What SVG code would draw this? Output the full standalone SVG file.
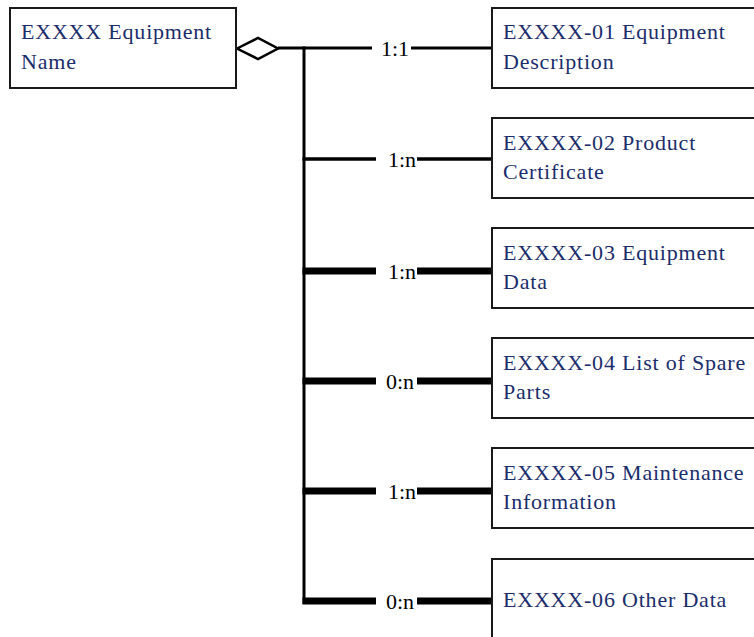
<svg xmlns="http://www.w3.org/2000/svg" width="754" height="637" viewBox="0 0 754 637">
<style>
.box{fill:#fff;stroke:#1a1a1a;stroke-width:2}
text{font-family:'Liberation Serif','Times New Roman',serif;font-size:22px}
.t{fill:#1b2d6b;letter-spacing:0.8px}
.lbl{fill:#000}
.thin{stroke:#000;stroke-width:3;fill:none}
.thick{stroke:#000;stroke-width:7;fill:none}
</style>
<rect width="754" height="637" fill="#fff"/>
<g id="connectors">
<line class="thin" x1="304" y1="46.5" x2="304" y2="604"/>
<polygon points="237,48.5 258,38 278,48.5 258,59" fill="#fff" stroke="#000" stroke-width="2.5"/>
<line class="thin" x1="278" y1="48" x2="372" y2="48"/>
<line class="thin" x1="411" y1="48" x2="492" y2="48"/>
<text class="lbl" x="381" y="55.5">1:1</text>
<line class="thin" x1="302.5" y1="159" x2="376" y2="159" style="stroke-width:3.5"/>
<line class="thin" x1="417" y1="159" x2="492" y2="159" style="stroke-width:3.5"/>
<text class="lbl" x="388" y="166.5">1:n</text>
<line class="thick" x1="302.5" y1="271" x2="376" y2="271"/>
<line class="thick" x1="417" y1="271" x2="492" y2="271"/>
<text class="lbl" x="388" y="278.5">1:n</text>
<line class="thick" x1="302.5" y1="381" x2="376" y2="381"/>
<line class="thick" x1="417" y1="381" x2="492" y2="381"/>
<text class="lbl" x="386" y="388.5">0:n</text>
<line class="thick" x1="302.5" y1="491" x2="376" y2="491"/>
<line class="thick" x1="417" y1="491" x2="492" y2="491"/>
<text class="lbl" x="388" y="498.5">1:n</text>
<line class="thick" x1="302.5" y1="601" x2="376" y2="601"/>
<line class="thick" x1="417" y1="601" x2="492" y2="601"/>
<text class="lbl" x="386" y="608.5">0:n</text>
</g>
<g id="main">
<rect class="box" x="10" y="8" width="226" height="80"/>
<text class="t" x="21" y="39">EXXXX Equipment</text>
<text class="t" x="21" y="69">Name</text>
</g>
<g id="n01">
<rect class="box" x="492" y="8" width="280" height="80"/>
<text class="t" x="503" y="39">EXXXX-01 Equipment</text>
<text class="t" x="503" y="69">Description</text>
</g>
<g id="n02">
<rect class="box" x="492" y="118" width="280" height="80"/>
<text class="t" x="503" y="150">EXXXX-02 Product</text>
<text class="t" x="503" y="179">Certificate</text>
</g>
<g id="n03">
<rect class="box" x="492" y="228" width="280" height="80"/>
<text class="t" x="503" y="260">EXXXX-03 Equipment</text>
<text class="t" x="503" y="289">Data</text>
</g>
<g id="n04">
<rect class="box" x="492" y="338" width="280" height="80"/>
<text class="t" x="503" y="370">EXXXX-04 List of Spare</text>
<text class="t" x="503" y="399">Parts</text>
</g>
<g id="n05">
<rect class="box" x="492" y="448" width="280" height="80"/>
<text class="t" x="503" y="480">EXXXX-05 Maintenance</text>
<text class="t" x="503" y="509">Information</text>
</g>
<g id="n06">
<rect class="box" x="492" y="559" width="280" height="90"/>
<text class="t" x="503" y="607">EXXXX-06 Other Data</text>
</g>
</svg>
